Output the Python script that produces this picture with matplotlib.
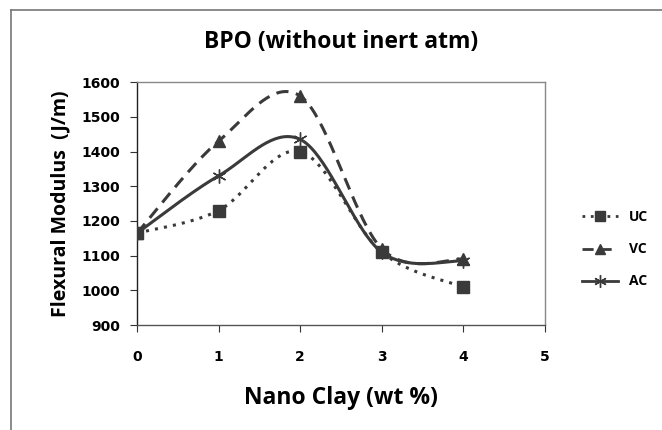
import matplotlib
matplotlib.use('Agg')
import matplotlib.pyplot as plt
import numpy as np
from matplotlib.lines import Line2D

plt.rcParams.update({
    'font.family': ['Open Sans', 'DejaVu Sans'],
    'font.size': 10,
})

clay = [0, 1, 2, 3, 4]
uc = [1165, 1230, 1400, 1110, 1010]
vc = [1165, 1430, 1560, 1120, 1090]
ac = [1165, 1330, 1435, 1110, 1085]

LINE = '#3a3a3a'


def smooth(x, y, n=40):
    # Excel-style smoothed line: cubic Bezier with Catmull-Rom control points
    x = np.asarray(x, float)
    y = np.asarray(y, float)
    px = np.concatenate([[x[0]], x, [x[-1]]])
    py = np.concatenate([[y[0]], y, [y[-1]]])
    xs, ys = [], []
    t = np.linspace(0, 1, n)
    for i in range(1, len(px) - 2):
        p0 = np.array([px[i], py[i]])
        p3 = np.array([px[i + 1], py[i + 1]])
        c1 = p0 + (np.array([px[i + 1], py[i + 1]]) - np.array([px[i - 1], py[i - 1]])) / 6
        c2 = p3 - (np.array([px[i + 2], py[i + 2]]) - np.array([px[i], py[i]])) / 6
        b = ((1 - t) ** 3)[:, None] * p0 + (3 * (1 - t) ** 2 * t)[:, None] * c1 \
            + (3 * (1 - t) * t ** 2)[:, None] * c2 + (t ** 3)[:, None] * p3
        xs.append(b[:, 0])
        ys.append(b[:, 1])
    return np.concatenate(xs), np.concatenate(ys)


fig = plt.figure(figsize=(6.62, 4.30), dpi=100)
ax = fig.add_axes([0.207, 0.244, 0.616, 0.565])

series = [
    ('UC', uc, (0, (1, 2)), 's', 8),
    ('VC', vc, (0, (4, 2.5)), '^', 8),
    ('AC', ac, '-', (6, 2, 0), 10),
]
handles = []
for name, vals, ls, mk, ms in series:
    sx, sy = smooth(clay, vals)
    ax.plot(sx, sy, color=LINE, lw=2.2, ls=ls, zorder=2)
    ax.plot(clay, vals, ls='none', marker=mk, ms=ms, color=LINE,
            markeredgecolor=LINE, mew=1, zorder=3)
    h, = ax.plot([], [], color=LINE, lw=2, ls=ls, marker=mk, ms=ms - 1,
                 markeredgecolor=LINE, mew=1)
    handles.append((h, name))

ax.set_xlim(0, 5)
ax.set_ylim(900, 1600)
ax.set_xticks(range(0, 6))
ax.set_yticks(range(900, 1601, 100))
for s in ax.spines.values():
    s.set_color('#888888')
    s.set_linewidth(1)
ax.spines['left'].set_color('#222222')
ax.spines['bottom'].set_color('#555555')
ax.tick_params(direction='out', length=5, color='#333333', labelsize=10)
ax.tick_params(axis='y', pad=7)
ax.tick_params(axis='x', pad=13)
for lbl in ax.get_xticklabels() + ax.get_yticklabels():
    lbl.set_fontweight('bold')
    lbl.set_family(['DejaVu Sans'])

fig.text(0.515, 0.902, 'BPO (without inert atm)', fontsize=16.5, fontweight='bold',
         ha='center', va='center')
fig.text(0.515, 0.074, 'Nano Clay (wt %)', fontsize=16.5, fontweight='bold',
         ha='center', va='center')
ax.set_ylabel('Flexural Modulus  (J/m)', fontsize=14, fontweight='bold', labelpad=8)

leg = fig.legend([h for h, _ in handles], [n for _, n in handles],
                 loc='center left', bbox_to_anchor=(0.86, 0.42), frameon=False,
                 handlelength=2.6, labelspacing=1.3, prop={'weight': 'bold', 'size': 10})

# outer chart frame: only left and top edges are visible in the crop
fig.lines.append(Line2D([0.016, 0.016], [0, 0.976], transform=fig.transFigure,
                        color='#777777', lw=1.2))
fig.lines.append(Line2D([0.016, 1.0], [0.976, 0.976], transform=fig.transFigure,
                        color='#777777', lw=1.2))

fig.savefig('out.png', dpi=100, facecolor='white')
